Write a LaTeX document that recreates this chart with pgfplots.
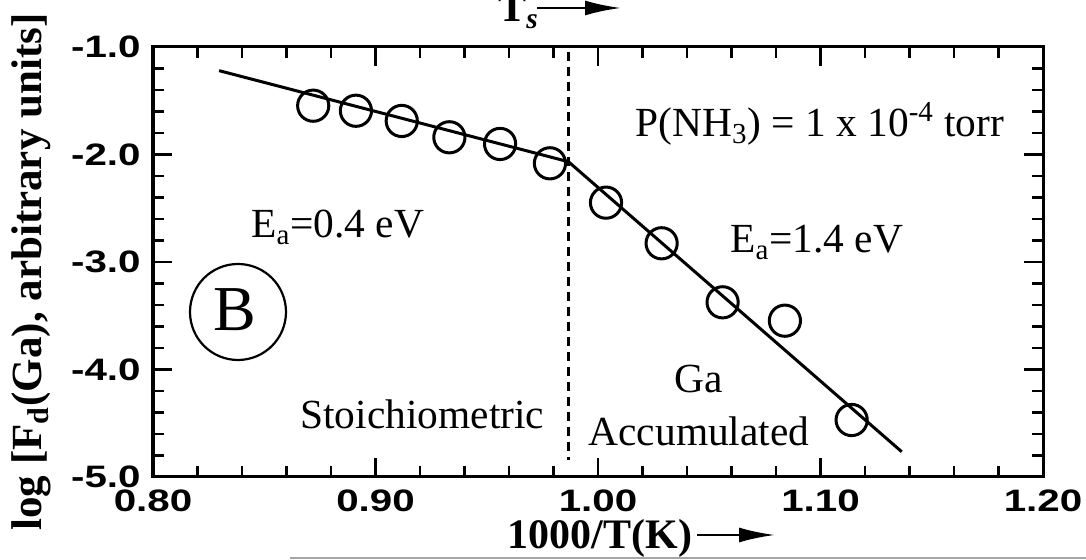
\documentclass[border=0pt]{standalone}
\usepackage{fontspec}
\setmainfont{Liberation Serif}
\newfontfamily\ticksf[FakeStretch=1.3, BoldFeatures={FakeStretch=1.3}]{Liberation Sans}
\usepackage{pgfplots}
\pgfplotsset{compat=1.18}
\usetikzlibrary{arrows.meta}

\begin{document}
\begin{tikzpicture}
\begin{axis}[
    at={(0pt,0pt)}, anchor=south west,
    scale only axis, width=445pt, height=215pt,
    xmin=0.8, xmax=1.2, ymin=-5, ymax=-1,
    xtick={0.8,0.9,1.0,1.1,1.2},
    xticklabels={0.80,0.90,1.00,1.10,1.20},
    ytick={-5,-4,-3,-2,-1},
    yticklabels={-5.0,-4.0,-3.0,-2.0,-1.0},
    minor x tick num=4, minor y tick num=4,
    tick align=inside,
    major tick length=9.5pt, minor tick length=5.5pt,
    axis line style={line width=1.5pt},
    tick style={line width=1.3pt, black},
    tick label style={font=\fontsize{15.5}{16}\ticksf\bfseries, inner sep=0pt},
    yticklabel shift=6pt,
    xticklabel shift=6pt,
    clip=false,
]
% fitted lines (two activation regimes)
\addplot[black, line width=1.5pt] coordinates {
    (0.8297,-1.22) (0.9867,-2.067) (1.1365,-4.765)
};
% measured points
\addplot[only marks, mark=o, mark size=7.8pt, line width=1.5pt, black] coordinates {
    (0.8720,-1.546) (0.8912,-1.593) (0.9118,-1.688) (0.9332,-1.840)
    (0.9560,-1.902) (0.9784,-2.082) (1.0036,-2.448) (1.0286,-2.826)
    (1.0560,-3.375) (1.0840,-3.546) (1.1140,-4.470)
};
% regime boundary
\addplot[black, line width=1.1pt, dash pattern=on 4.5pt off 3pt] coordinates {
    (0.9867,-1.05) (0.9867,-4.84)
};
\end{axis}

% axis titles
\node[rotate=90, anchor=base, font=\fontsize{21.5}{24}\selectfont\bfseries]
    at (-55.5pt,102.5pt) {log [F\textsubscript{d}(Ga), arbitrary units]};
\node[anchor=base, font=\fontsize{21}{24}\selectfont\bfseries]
    at (223.5pt,-36pt) {1000/T(K)};
\draw[line width=1.3pt, -{Latex[length=18pt,width=7.5pt]}] (272pt,-29pt) -- (311pt,-29pt);
\node[anchor=base west, inner sep=0pt, font=\fontsize{21}{24}\selectfont\bfseries]
    at (172.5pt,227.5pt) {T\textsubscript{\itshape s}};
\draw[line width=1.3pt, -{Latex[length=18pt,width=7.5pt]}] (192pt,234.5pt) -- (234pt,234.5pt);

% annotations
\begin{scope}[every node/.style={inner sep=0pt, font=\fontsize{20.7}{24}\selectfont}]
\node[anchor=base west] at (49pt,119.5pt) {E\textsubscript{a}=0.4 eV};
\node[anchor=base west] at (288.5pt,112pt) {E\textsubscript{a}=1.4 eV};
\node[anchor=base west] at (241pt,170pt) {P(NH\textsubscript{3}) = 1 x 10\textsuperscript{-4} torr};
\node[anchor=base west] at (73.5pt,24pt) {Stoichiometric};
\node[anchor=base] at (273pt,42.25pt) {Ga};
\node[anchor=base] at (273pt,15.5pt) {Accumulated};
\end{scope}
\draw[line width=1.1pt] (42.5pt,82.5pt) circle (24pt);
\node[font=\fontsize{32}{34}\selectfont] at (41pt,83.5pt) {B};

% scan edge line
\draw[gray!70, line width=1pt] (68.5pt,-40.5pt) -- (466.5pt,-40.5pt);

\pgfresetboundingbox
\useasboundingbox (-76.5pt,-41.5pt) rectangle (466.5pt,238.5pt);
\end{tikzpicture}
\end{document}
